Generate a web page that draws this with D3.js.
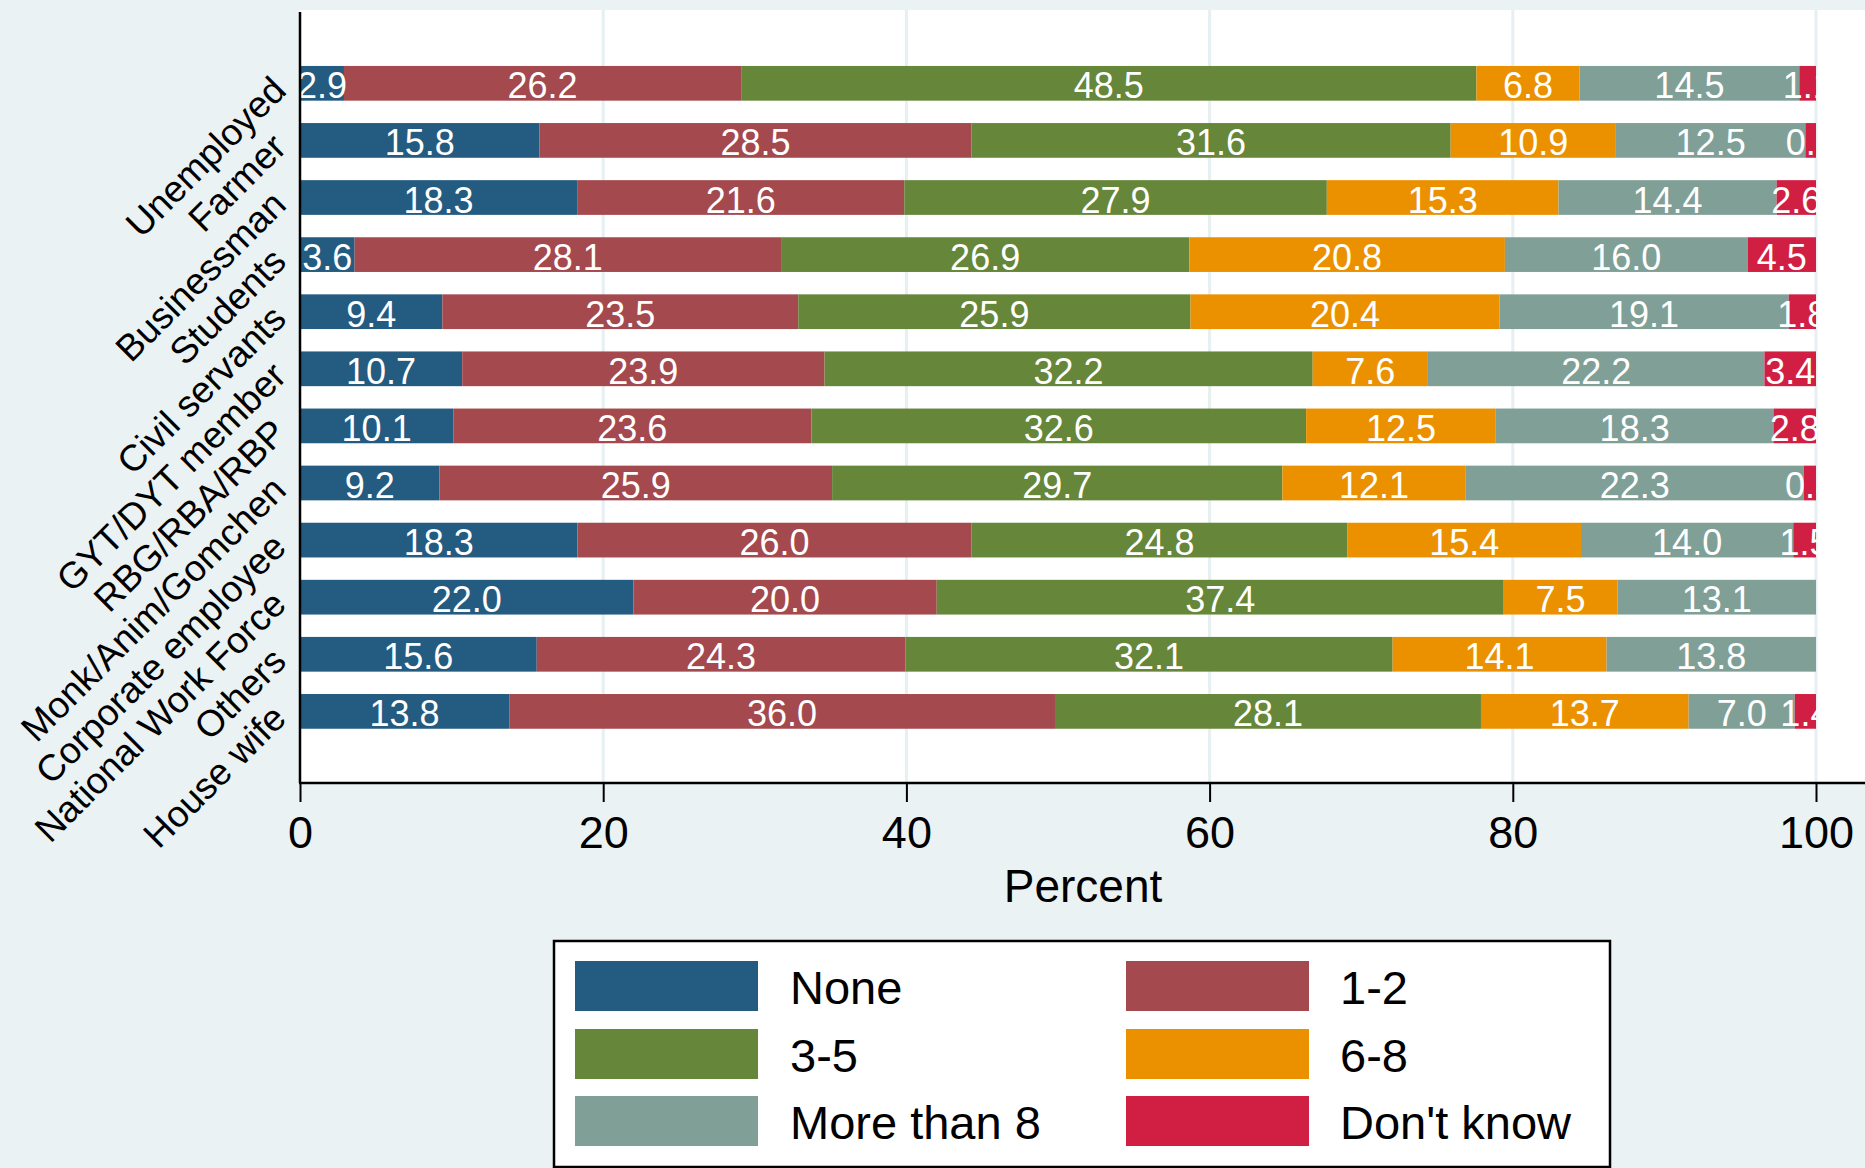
<!DOCTYPE html>
<html>
<head>
<meta charset="utf-8">
<script src="https://cdn.jsdelivr.net/npm/d3@7"></script>
<style>
  html, body { margin: 0; padding: 0; background: #eaf2f3; }
  svg { display: block; }
  text { font-family: "Liberation Sans", Arial, Helvetica, sans-serif; }
</style>
</head>
<body>
<script>
const categories = ["Unemployed", "Farmer", "Businessman", "Students", "Civil servants",
  "GYT/DYT member", "RBG/RBA/RBP", "Monk/Anim/Gomchen", "Corporate employee",
  "National Work Force", "Others", "House wife"];
const seriesNames = ["None", "1-2", "3-5", "6-8", "More than 8", "Don't know"];
const seriesColors = ["#245b81", "#a4494e", "#66863a", "#eb9100", "#80a097", "#d11f44"];
const none      = [2.9, 15.8, 18.3, 3.6, 9.4, 10.7, 10.1, 9.2, 18.3, 22.0, 15.6, 13.8];
const oneTwo    = [26.2, 28.5, 21.6, 28.1, 23.5, 23.9, 23.6, 25.9, 26.0, 20.0, 24.3, 36.0];
const threeFive = [48.5, 31.6, 27.9, 26.9, 25.9, 32.2, 32.6, 29.7, 24.8, 37.4, 32.1, 28.1];
const sixEight  = [6.8, 10.9, 15.3, 20.8, 20.4, 7.6, 12.5, 12.1, 15.4, 7.5, 14.1, 13.7];
const moreThan8 = [14.5, 12.5, 14.4, 16.0, 19.1, 22.2, 18.3, 22.3, 14.0, 13.1, 13.8, 7.0];
const dontKnow  = [1.1, 0.7, 2.6, 4.5, 1.8, 3.4, 2.8, 0.8, 1.5, 0.0, 0.0, 1.4];
const xTicks = [0, 20, 40, 60, 80, 100];
const xTitle = "Percent";

const series = [none, oneTwo, threeFive, sixEight, moreThan8, dontKnow];

const W = 1865, H = 1168;
const svg = d3.select("body").append("svg").attr("width", W).attr("height", H);

svg.append("rect").attr("width", W).attr("height", H).attr("fill", "#eaf2f3");

const plotL = 300, plotT = 10, plotB = 783;
// stacked shares (each row expanded to 100 %), axis shown in percent
const x = d3.scaleLinear().domain([0, 1]).range([300, 1816]);
const y = d3.scaleBand().domain(categories).range([plotT, 784.7]).paddingInner(0.392).paddingOuter(0.98);

// plot region
svg.append("rect").attr("x", plotL).attr("y", plotT).attr("width", W - plotL).attr("height", plotB - plotT).attr("fill", "#ffffff");

// gridlines
svg.append("g").selectAll("line").data(xTicks.filter(d => d > 0)).join("line")
  .attr("x1", d => x(d / 100)).attr("x2", d => x(d / 100))
  .attr("y1", plotT).attr("y2", plotB)
  .attr("stroke", "#e6eff1").attr("stroke-width", 3);

// stacked data
const rows = categories.map((c, i) => {
  const o = { cat: c };
  seriesNames.forEach((s, j) => o[s] = series[j][i]);
  return o;
});
const stacked = d3.stack().keys(seriesNames).offset(d3.stackOffsetExpand)(rows);

svg.append("defs").append("clipPath").attr("id", "clip")
  .append("rect").attr("x", x(0)).attr("y", 0).attr("width", x(1) - x(0) + 1).attr("height", H);

const gBars = svg.append("g");
stacked.forEach((layer, j) => {
  gBars.append("g").attr("fill", seriesColors[j]).selectAll("rect")
    .data(layer.filter(d => d[1] - d[0] > 0)).join("rect")
    .attr("x", d => x(d[0]))
    .attr("width", d => x(d[1]) - x(d[0]))
    .attr("y", d => y(d.data.cat))
    .attr("height", y.bandwidth());
});

const gLab = svg.append("g").attr("clip-path", "url(#clip)");
stacked.forEach((layer, j) => {
  const key = layer.key;
  gLab.append("g").selectAll("text")
    .data(layer.filter(d => d[1] - d[0] > 0)).join("text")
    .attr("x", d => x((d[0] + d[1]) / 2))
    .attr("y", d => y(d.data.cat) + y.bandwidth() / 2 + 15)
    .attr("text-anchor", "middle")
    .attr("fill", "#ffffff")
    .attr("font-size", 36)
    .text(d => d.data[key].toFixed(1));
});

// y axis line
svg.append("line").attr("x1", plotL).attr("x2", plotL).attr("y1", 12).attr("y2", plotB)
  .attr("stroke", "#000").attr("stroke-width", 2.5);

// y labels rotated
svg.append("g").selectAll("text").data(categories).join("text")
  .attr("transform", d => `translate(${plotL - 21},${y(d) + y.bandwidth() / 2}) rotate(-45)`)
  .attr("text-anchor", "end")
  .attr("dy", "0.35em")
  .attr("font-size", 37)
  .attr("fill", "#000")
  .text(d => d);

// x axis
const xAxis = d3.axisBottom(x).tickValues(xTicks.map(d => d / 100)).tickSize(19).tickPadding(14)
  .tickFormat(d => d3.format("d")(Math.round(d * 100)));
const gx = svg.append("g").attr("transform", `translate(0,${plotB})`).call(xAxis);
gx.select(".domain").remove();
gx.append("line").attr("x1", plotL - 1).attr("x2", W).attr("y1", 0).attr("y2", 0)
  .attr("stroke", "#000").attr("stroke-width", 2.5);
gx.selectAll(".tick line").attr("stroke", "#000").attr("stroke-width", 2);
gx.selectAll(".tick text").attr("font-size", 45).attr("fill", "#000")
  .attr("font-family", "'Liberation Sans', Arial, sans-serif");

svg.append("text").attr("x", 1083).attr("y", 902).attr("text-anchor", "middle")
  .attr("font-size", 46).attr("fill", "#000").text(xTitle);

// legend
const leg = svg.append("g");
leg.append("rect").attr("x", 554).attr("y", 941).attr("width", 1056).attr("height", 226)
  .attr("fill", "#fff").attr("stroke", "#000").attr("stroke-width", 2.5);
const colSw = [575, 1126], colTx = [790, 1340], rowTop = [961, 1029, 1096];
seriesNames.forEach((s, i) => {
  const c = i % 2, r = Math.floor(i / 2);
  leg.append("rect").attr("x", colSw[c]).attr("y", rowTop[r]).attr("width", 183).attr("height", 50)
    .attr("fill", seriesColors[i]);
  leg.append("text").attr("x", colTx[c]).attr("y", rowTop[r] + 43)
    .attr("font-size", 47).attr("fill", "#000").text(s);
});
</script>
</body>
</html>
